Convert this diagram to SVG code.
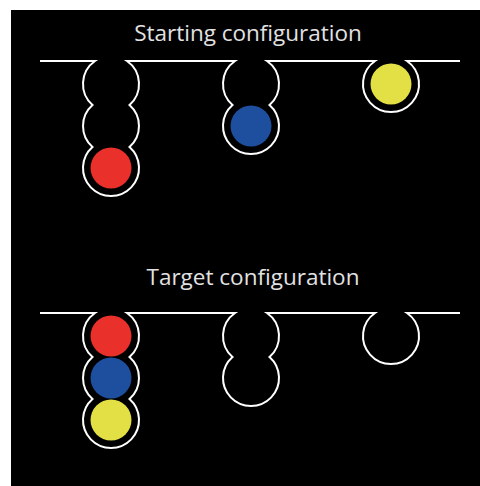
<svg xmlns="http://www.w3.org/2000/svg" width="480" height="486" viewBox="0 0 480 486">
  <style>
    .title { font-family: "Open Sans", "DejaVu Sans", sans-serif; font-size: 22.5px; fill: #e2e2e2; text-anchor: middle; }
    .rail { fill: none; stroke: #ffffff; stroke-width: 2; stroke-linejoin: miter; }
    .red { fill: #e9302b; }
    .blue { fill: #1e4f9e; }
    .yellow { fill: #e3e045; }
  </style>
  <rect x="0" y="0" width="480" height="486" fill="#ffffff"/>
  <rect x="11" y="10" width="469" height="476" fill="#000000"/>

  <g id="starting">
    <text class="title" x="248" y="41">Starting configuration</text>
    <path id="start-rail" class="rail" d="M40,61 H95 A28,28 0 0 0 92.5,105 A28,28 0 0 0 92.5,147 A28,28 0 1 0 129.5,147 A28,28 0 0 0 129.5,105 A28,28 0 0 0 127,61 H235 A28,28 0 0 0 232.5,105 A28,28 0 1 0 269.5,105 A28,28 0 0 0 267,61 H375 A28,28 0 1 0 407,61 H460"/>
    <g id="start-balls">
      <circle id="start-red" class="red" cx="111" cy="168" r="20.5"/>
      <circle id="start-blue" class="blue" cx="251" cy="126" r="20.5"/>
      <circle id="start-yellow" class="yellow" cx="391" cy="84" r="20.5"/>
    </g>
  </g>

  <g id="target">
    <text class="title" x="253" y="285">Target configuration</text>
    <path id="target-rail" class="rail" d="M40,313 H95 A28,28 0 0 0 92.5,357 A28,28 0 0 0 92.5,399 A28,28 0 1 0 129.5,399 A28,28 0 0 0 129.5,357 A28,28 0 0 0 127,313 H235 A28,28 0 0 0 232.5,357 A28,28 0 1 0 269.5,357 A28,28 0 0 0 267,313 H375 A28,28 0 1 0 407,313 H460"/>
    <g id="target-balls">
      <circle id="target-red" class="red" cx="111" cy="336" r="20.5"/>
      <circle id="target-blue" class="blue" cx="111" cy="378" r="20.5"/>
      <circle id="target-yellow" class="yellow" cx="111" cy="420" r="20.5"/>
    </g>
  </g>
</svg>
